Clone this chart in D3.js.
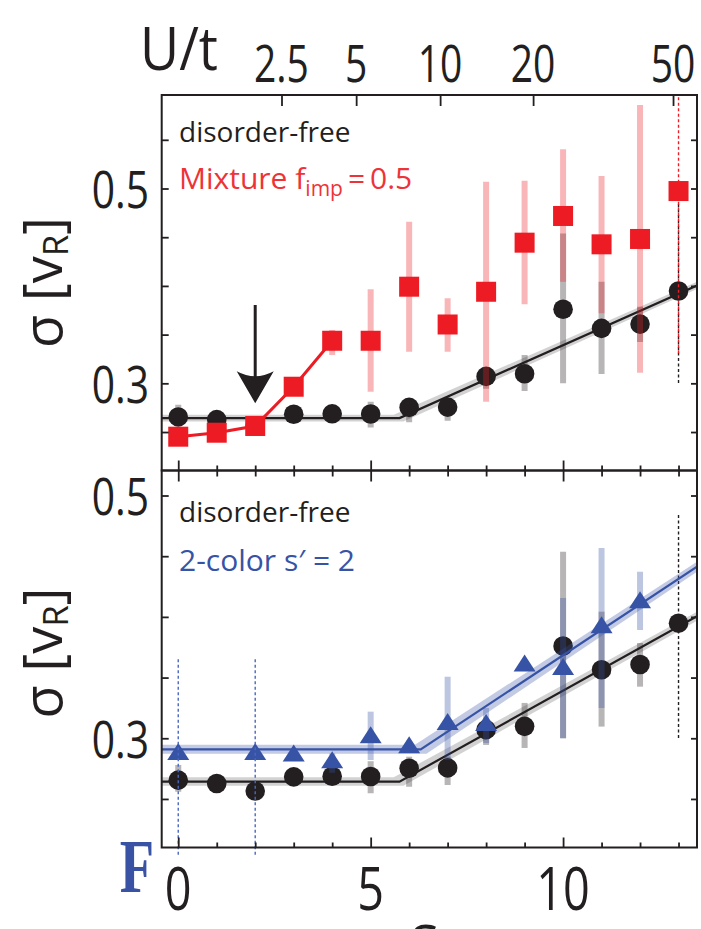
<!DOCTYPE html>
<html>
<head>
<meta charset="utf-8">
<script src="https://cdn.jsdelivr.net/npm/d3@7/dist/d3.min.js"></script>
<style>
  body { margin: 0; background: #fff; }
  svg { display: block; font-family: "Open Sans", sans-serif; }
</style>
</head>
<body>
<svg id="chart" width="701" height="929"></svg>
<script>
// ---- data ----
var sVals = [0, 1, 2, 3, 4, 5, 6, 7, 8, 9, 10, 11, 12, 13];

// disorder-free (black circles), same in both panels
var freeSigma = [0.2655, 0.2627, 0.2565, 0.2682, 0.2687, 0.2685, 0.2753, 0.2756, 0.3071, 0.3098, 0.376, 0.3564, 0.3608, 0.3948];
var freeLo = [0.256, null, null, 0.262, 0.262, 0.2547, 0.2601, 0.2615, 0.2945, 0.292, 0.300, 0.3096, 0.3425, null];
var freeHi = [0.278, null, null, 0.275, 0.275, 0.2811, 0.2848, 0.2848, 0.3126, 0.3291, 0.4537, 0.4043, 0.3785, null];
var freeDashS = [13], freeDashLo = [0.3003], freeDashHi = [0.4856];
var freeFitS = [-0.43, 5.75, 13.48], freeFitV = [0.2643, 0.2643, 0.4005];
var freeBandLoS = [-0.43, 5.85, 13.48], freeBandLoV = [0.2608, 0.2608, 0.3968];
var freeBandHiS = [-0.43, 5.6, 13.48], freeBandHiV = [0.2678, 0.2678, 0.4042];

// mixture f_imp = 0.5 (red squares)
var mixSigma = [0.2452, 0.2493, 0.2562, 0.2965, 0.3437, 0.3437, 0.3992, 0.3604, 0.394, 0.4444, 0.4718, 0.4427, 0.4482, 0.4974];
var mixLo = [null, null, null, null, 0.3291, 0.2914, 0.3324, 0.3324, 0.2811, 0.3811, 0.4043, 0.3719, 0.3109, null];
var mixHi = [null, null, null, null, 0.3547, 0.3965, 0.4659, 0.3873, 0.507, 0.508, 0.5402, 0.5128, 0.5857, null];
var mixDashS = [13], mixDashLo = [0.3308], mixDashHi = [0.596];
var mixLineS = [0, 1, 2, 3, 4];

// 2-color s' = 2 (blue triangles)
var twoS = [0, 2, 3, 4, 5, 6, 7, 8, 9, 10, 11, 12];
var twoSigma = [0.289, 0.289, 0.2876, 0.2821, 0.3027, 0.2945, 0.3137, 0.3128, 0.3618, 0.359, 0.3933, 0.4139];
var twoLo = [null, null, null, 0.2715, 0.2821, null, 0.2821, 0.2961, null, 0.300, 0.325, 0.3892];
var twoHi = [null, null, null, 0.2875, 0.3219, null, 0.3507, 0.325, null, 0.4156, 0.4568, 0.4372];
var twoDashS = [0, 2], twoDashLo = [0.204, 0.204], twoDashHi = [0.3672, 0.3672];
var twoFitS = [-0.43, 6.3, 13.48], twoFitV = [0.2909, 0.2909, 0.4413];
var twoBandLoS = [-0.43, 6.45, 13.48], twoBandLoV = [0.2872, 0.2872, 0.4372];
var twoBandHiS = [-0.43, 6.15, 13.48], twoBandHiV = [0.2946, 0.2946, 0.4455];

// axes
var sMajor = [0, 5, 10];
var sMinor = [1, 2, 3, 4, 6, 7, 8, 9, 11, 12, 13];
var yTicksTop = [0.25, 0.3, 0.35, 0.4, 0.45, 0.5, 0.55];
var yTicksBot = [0.25, 0.3, 0.35, 0.4, 0.45, 0.5];
var yLabelVals = [0.3, 0.5];
var utLabels = ["2.5", "5", "10", "20", "50"];
var utPos = [2.683, 4.623, 6.805, 9.221, 12.857];
var arrowS = 2, arrowTop = 0.3804, arrowTip = 0.2795;

// ---- drawing ----
var ink = "#231f20", red = "#ed1c24", blue = "#3753a5";
var svg = d3.select("#chart");

var x = d3.scaleLinear().domain([-0.43, 13.48]).range([161.7, 697]);
var yTop = d3.scaleLinear().domain([0.2105, 0.596]).range([470.5, 95]);
var yBot = d3.scaleLinear().domain([0.21, 0.5206]).range([847.5, 470.5]);

function condense(sel, k) {
    sel.each(function() {
        var n = this.getComputedTextLength();
        d3.select(this).attr("textLength", n * k).attr("lengthAdjust", "spacingAndGlyphs");
    });
}

function rows(s, v) {
    return s.map(function(d, i) { return {s: d, v: v[i]}; });
}

function clipFor(id, y) {
    svg.append("clipPath").attr("id", id).append("rect")
        .attr("x", x.range()[0]).attr("y", y.range()[1])
        .attr("width", x.range()[1] - x.range()[0])
        .attr("height", y.range()[0] - y.range()[1]);
}
clipFor("clipTop", yTop);
clipFor("clipBot", yBot);

function errBars(g, y, s, lo, hi, color, op) {
    var data = s.map(function(d, i) { return {s: d, lo: lo[i], hi: hi[i]}; })
        .filter(function(d) { return d.lo != null; });
    g.selectAll(null).data(data).enter().append("line")
        .attr("x1", function(d) { return x(d.s); })
        .attr("x2", function(d) { return x(d.s); })
        .attr("y1", function(d) { return y(d.lo); })
        .attr("y2", function(d) { return y(d.hi); })
        .attr("stroke", color).attr("stroke-opacity", op).attr("stroke-width", 6);
}

function dashBars(g, y, s, lo, hi, color) {
    var data = s.map(function(d, i) { return {s: d, lo: lo[i], hi: hi[i]}; });
    g.selectAll(null).data(data).enter().append("line")
        .attr("x1", function(d) { return x(d.s); })
        .attr("x2", function(d) { return x(d.s); })
        .attr("y1", function(d) { return y(d.lo); })
        .attr("y2", function(d) { return y(d.hi); })
        .attr("stroke", color).attr("stroke-width", 1.4).attr("stroke-dasharray", "3,2.5");
}

function band(g, y, loS, loV, hiS, hiV, color, op) {
    var pts = rows(hiS, hiV).concat(rows(loS, loV).reverse());
    var line = d3.line().x(function(d) { return x(d.s); }).y(function(d) { return y(d.v); });
    g.append("path").attr("d", line(pts) + "Z")
        .attr("fill", color).attr("fill-opacity", op);
}

function polyline(g, y, s, v, color, w) {
    var line = d3.line().x(function(d) { return x(d.s); }).y(function(d) { return y(d.v); });
    g.append("path").attr("d", line(rows(s, v)))
        .attr("fill", "none").attr("stroke", color).attr("stroke-width", w);
}

function circles(g, y, s, v) {
    g.selectAll(null).data(rows(s, v)).enter().append("circle")
        .attr("cx", function(d) { return x(d.s); })
        .attr("cy", function(d) { return y(d.v); })
        .attr("r", 9.8).attr("fill", ink);
}

function squares(g, y, s, v) {
    g.selectAll(null).data(rows(s, v)).enter().append("rect")
        .attr("x", function(d) { return x(d.s) - 10; })
        .attr("y", function(d) { return y(d.v) - 10; })
        .attr("width", 20).attr("height", 20).attr("fill", red);
}

function triangles(g, y, s, v) {
    g.selectAll(null).data(rows(s, v)).enter().append("path")
        .attr("transform", function(d) { return "translate(" + x(d.s) + "," + y(d.v) + ")"; })
        .attr("d", "M0,-8.7L11,8.3L-11,8.3Z").attr("fill", blue);
}

// --- top panel ---
var gTop = svg.append("g").attr("clip-path", "url(#clipTop)");
errBars(gTop, yTop, sVals, freeLo, freeHi, ink, 0.33);
dashBars(gTop, yTop, freeDashS, freeDashLo, freeDashHi, ink);
band(gTop, yTop, freeBandLoS, freeBandLoV, freeBandHiS, freeBandHiV, ink, 0.2);
polyline(gTop, yTop, freeFitS, freeFitV, ink, 2.2);
circles(gTop, yTop, sVals, freeSigma);
errBars(gTop, yTop, sVals, mixLo, mixHi, red, 0.32);
dashBars(gTop, yTop, mixDashS, mixDashLo, mixDashHi, red);
polyline(gTop, yTop, mixLineS, mixSigma.slice(0, mixLineS.length), red, 3);
squares(gTop, yTop, sVals, mixSigma);

// arrow at s = 2
var ax = x(arrowS), aTip = yTop(arrowTip);
gTop.append("line").attr("x1", ax).attr("x2", ax)
    .attr("y1", yTop(arrowTop)).attr("y2", aTip - 20)
    .attr("stroke", ink).attr("stroke-width", 3);
gTop.append("path")
    .attr("d", "M" + ax + "," + aTip + "L" + (ax - 18.5) + "," + (aTip - 32) +
         "Q" + ax + "," + (aTip - 22) + " " + (ax + 18.5) + "," + (aTip - 32) + "Z")
    .attr("fill", ink);

// --- bottom panel ---
var gBot = svg.append("g").attr("clip-path", "url(#clipBot)");
errBars(gBot, yBot, sVals, freeLo, freeHi, ink, 0.33);
dashBars(gBot, yBot, freeDashS, freeDashLo, freeDashHi, ink);
band(gBot, yBot, freeBandLoS, freeBandLoV, freeBandHiS, freeBandHiV, ink, 0.2);
polyline(gBot, yBot, freeFitS, freeFitV, ink, 2.2);
circles(gBot, yBot, sVals, freeSigma);
errBars(gBot, yBot, twoS, twoLo, twoHi, blue, 0.33);
svg.append("g").call(function(g) { dashBars(g, yBot, twoDashS, twoDashLo, twoDashHi, "#4a68c0"); });
band(gBot, yBot, twoBandLoS, twoBandLoV, twoBandHiS, twoBandHiV, blue, 0.3);
polyline(gBot, yBot, twoFitS, twoFitV, blue, 2.2);
triangles(gBot, yBot, twoS, twoSigma);

// --- frames and axes ---
function frame(y) {
    svg.append("rect")
        .attr("x", x.range()[0]).attr("y", y.range()[1])
        .attr("width", x.range()[1] - x.range()[0])
        .attr("height", y.range()[0] - y.range()[1])
        .attr("fill", "none").attr("stroke", ink).attr("stroke-width", 2);
}
frame(yTop);
frame(yBot);

function tickAxis(axis, tx, ty) {
    svg.append("g").attr("transform", "translate(" + tx + "," + ty + ")")
        .call(axis.tickFormat(""))
        .call(function(g) {
            g.select(".domain").remove();
            g.selectAll(".tick line").attr("stroke", ink).attr("stroke-width", 1.8);
        });
}

// y ticks, inward on both sides
tickAxis(d3.axisRight(yTop).tickValues(yTicksTop).tickSize(7), x.range()[0], 0);
tickAxis(d3.axisLeft(yTop).tickValues(yTicksTop).tickSize(6), x.range()[1], 0);
tickAxis(d3.axisRight(yBot).tickValues(yTicksBot).tickSize(7), x.range()[0], 0);
tickAxis(d3.axisLeft(yBot).tickValues(yTicksBot).tickSize(6), x.range()[1], 0);

// s ticks
tickAxis(d3.axisTop(x).tickValues(sMajor).tickSize(10), 0, yTop.range()[0]);
tickAxis(d3.axisTop(x).tickValues(sMinor).tickSize(5), 0, yTop.range()[0]);
tickAxis(d3.axisBottom(x).tickValues(sMajor).tickSize(11), 0, yBot.range()[1]);
tickAxis(d3.axisBottom(x).tickValues(sMinor).tickSize(6), 0, yBot.range()[1]);
tickAxis(d3.axisTop(x).tickValues(sMajor).tickSize(10), 0, yBot.range()[0]);
tickAxis(d3.axisTop(x).tickValues(sMinor).tickSize(5), 0, yBot.range()[0]);

// U/t ticks on top
tickAxis(d3.axisBottom(x).tickValues(utPos).tickSize(11), 0, yTop.range()[1]);

// tick labels
function yLabels(y) {
    svg.append("g").selectAll("text").data(yLabelVals).enter().append("text")
        .attr("x", 149).attr("y", function(d) { return y(d) + 19.5; })
        .attr("text-anchor", "end").attr("font-size", 51).attr("fill", ink)
        .text(function(d) { return d.toFixed(1); })
        .call(condense, 0.8);
}
yLabels(yTop);
yLabels(yBot);

svg.append("g").selectAll("text").data(sMajor).enter().append("text")
    .attr("x", function(d) { return x(d); }).attr("y", 910)
    .attr("text-anchor", "middle").attr("font-size", 60).attr("fill", ink)
    .text(function(d) { return d; })
    .call(condense, 0.78);

svg.append("g").selectAll("text").data(utLabels).enter().append("text")
    .attr("x", function(d, i) { return x(utPos[i]); }).attr("y", 81.5)
    .attr("text-anchor", "middle").attr("font-size", 52).attr("fill", ink)
    .text(function(d) { return d; })
    .call(condense, 0.75);

svg.append("text").attr("x", 179).attr("y", 70).attr("text-anchor", "middle")
    .attr("font-size", 61).attr("fill", ink).text("U/t")
    .call(condense, 0.88);

svg.append("text").attr("x", 425).attr("y", 957).attr("text-anchor", "middle")
    .attr("font-size", 60).attr("fill", ink).text("s");

svg.append("text").attr("x", 137).attr("y", 892).attr("text-anchor", "middle")
    .attr("font-family", "'Liberation Serif', serif").attr("font-weight", "bold")
    .attr("font-size", 76).attr("fill", "#3a52a3").text("F")
    .call(condense, 0.74);

// y axis titles
function yTitle(cy) {
    var t = svg.append("text")
        .attr("transform", "translate(62," + cy + ") rotate(-90)")
        .attr("text-anchor", "middle").attr("font-size", 54).attr("fill", ink);
    t.append("tspan").text("\u03c3 [v");
    t.append("tspan").attr("font-size", 35).attr("dy", 6).text("R");
    t.append("tspan").attr("dy", -6).text("]");
}
yTitle(282.5);
yTitle(653);

// legends
svg.append("text").attr("x", 179).attr("y", 141.7).attr("font-size", 28).attr("fill", ink).text("disorder-free");
var mix = svg.append("text").attr("x", 179).attr("y", 189).attr("font-size", 30).attr("fill", "#ee3338");
mix.append("tspan").text("Mixture f");
mix.append("tspan").attr("font-size", 21).attr("dy", 7).text("imp");
mix.append("tspan").attr("dy", -7).text("\u2009=\u20090.5");

svg.append("text").attr("x", 179).attr("y", 521.7).attr("font-size", 28).attr("fill", ink).text("disorder-free");
svg.append("text").attr("x", 179).attr("y", 570.5).attr("font-size", 30).attr("fill", blue).text("2-color s\u2032 = 2");
</script>
</body>
</html>
